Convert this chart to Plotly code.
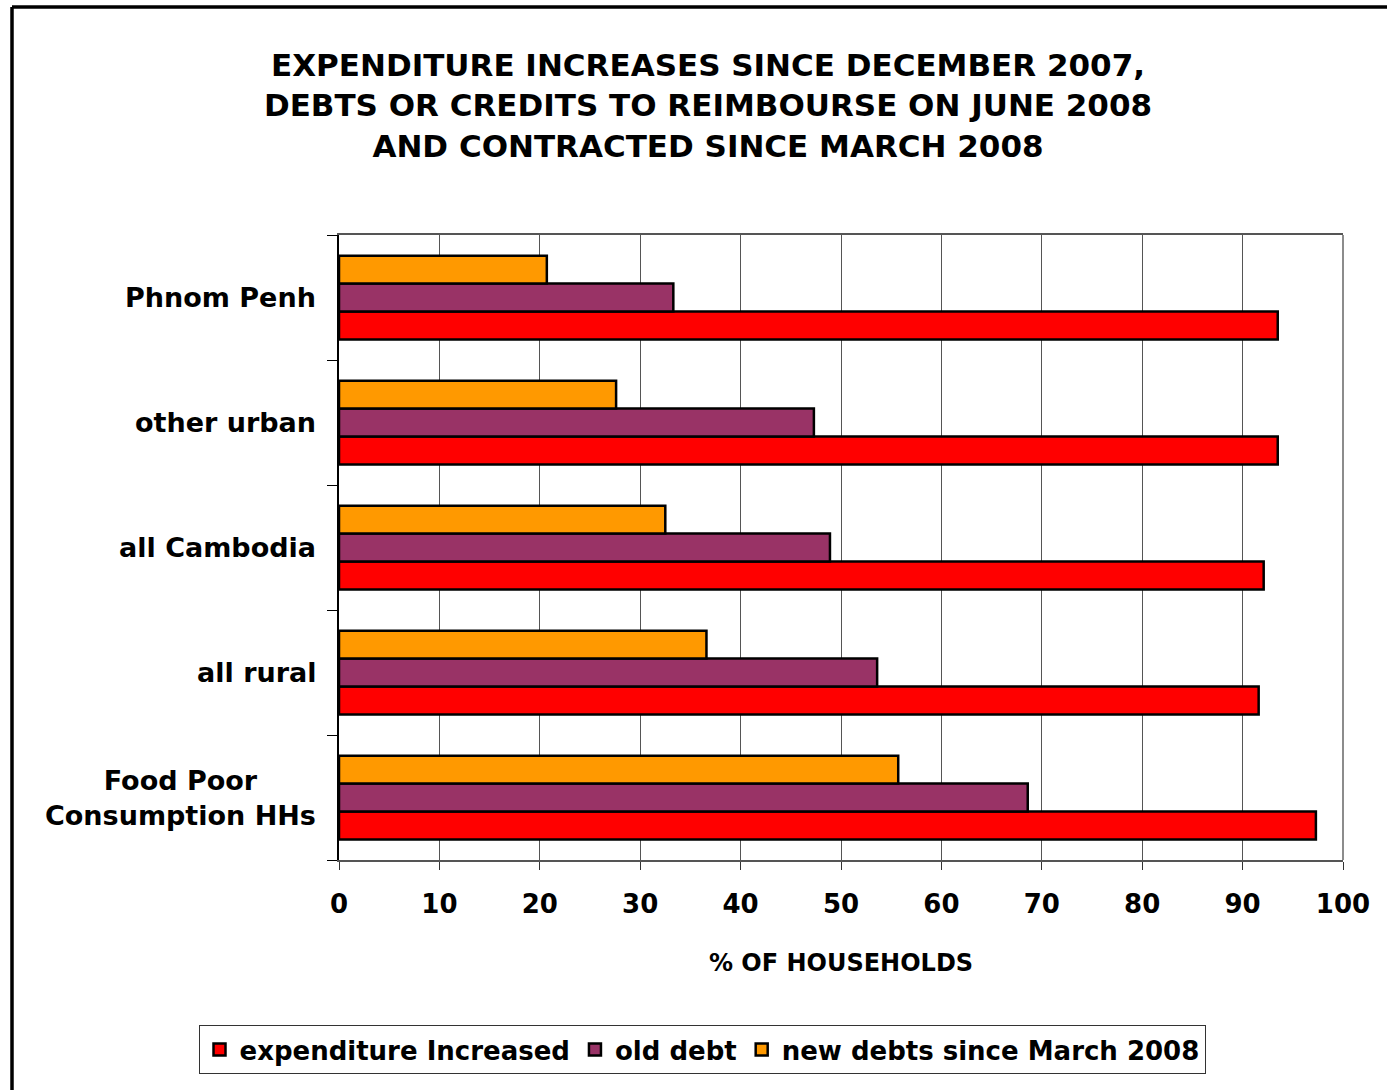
import plotly.graph_objects as go

# Data (categories listed bottom-to-top as drawn)
categories = ["Food Poor Consumption HHs", "all rural", "all Cambodia", "other urban", "Phnom Penh"]
category_labels = ["Food Poor<br>Consumption HHs", "all rural", "all Cambodia", "other urban", "Phnom Penh"]
expenditure_increased = [97.3, 91.6, 92.1, 93.5, 93.5]
old_debt = [68.6, 53.6, 48.9, 47.3, 33.3]
new_debts = [55.7, 36.6, 32.5, 27.6, 20.7]
x_ticks = [0, 10, 20, 30, 40, 50, 60, 70, 80, 90, 100]

FONT = "DejaVu Sans"
W, H = 1387, 1090
L, R, T, B = 339, 1343, 235, 860

fig = go.Figure()
series = [
    ("expenditure Increased", expenditure_increased, "#FF0000"),
    ("old debt", old_debt, "#993366"),
    ("new debts since March 2008", new_debts, "#FF9900"),
]
for name, vals, col in series:
    fig.add_trace(go.Bar(
        y=categories, x=vals, name=name, orientation="h",
        marker=dict(color=col, line=dict(color="black", width=2.5)),
    ))

def px_to_paper_x(px):
    return (px - L) / (R - L)

def px_to_paper_y(py):
    return (B - py) / (B - T)

shapes = [
    # right plot border
    dict(type="line", xref="paper", yref="paper", x0=1, x1=1, y0=0, y1=1,
         line=dict(color="#8c8c8c", width=2)),
    # outer chart frame (left and top edges, continuing beyond the image)
    dict(type="line", xref="paper", yref="paper",
         x0=px_to_paper_x(12), x1=px_to_paper_x(1400),
         y0=px_to_paper_y(7), y1=px_to_paper_y(7),
         line=dict(color="black", width=3.5)),
    dict(type="line", xref="paper", yref="paper",
         x0=px_to_paper_x(12), x1=px_to_paper_x(12),
         y0=px_to_paper_y(7), y1=px_to_paper_y(1100),
         line=dict(color="black", width=3.5)),
]

annotations = []
for cat, lab in zip(categories, category_labels):
    annotations.append(dict(
        xref="paper", yref="y", x=0, y=cat, xshift=-21,
        xanchor="right", yanchor="middle", align="center",
        text=lab, showarrow=False,
        font=dict(family=FONT, size=27, color="black", weight="bold"),
    ))

fig.update_layout(
    width=W, height=H,
    margin=dict(l=L, r=W - R, t=T, b=H - B, autoexpand=False),
    paper_bgcolor="white", plot_bgcolor="white",
    font=dict(family=FONT, color="black", weight="bold"),
    title=dict(
        text="EXPENDITURE INCREASES SINCE DECEMBER 2007,<br>DEBTS OR CREDITS TO REIMBOURSE ON JUNE 2008<br>AND CONTRACTED SINCE MARCH 2008",
        xref="container", yref="container", x=708 / W, y=1 - 76 / H,
        xanchor="center", yanchor="middle",
        font=dict(family=FONT, size=31, color="black", weight="bold"),
    ),
    barmode="group", bargap=0.33, bargroupgap=0,
    xaxis=dict(
        range=[0, 100], tickvals=x_ticks, ticktext=[str(v) for v in x_ticks],
        showgrid=True, gridcolor="#555555", gridwidth=1,
        showline=True, linecolor="#555555", linewidth=2, mirror=True,
        ticks="outside", ticklen=8, tickcolor="#333333", tickwidth=1,
        ticklabelstandoff=12,
        tickfont=dict(family=FONT, size=26, color="black", weight="bold"),
        zeroline=False,
        title=dict(text="% OF HOUSEHOLDS", standoff=36,
                   font=dict(family=FONT, size=24, color="black", weight="bold")),
    ),
    yaxis=dict(
        type="category", categoryorder="array", categoryarray=categories,
        tickson="boundaries", ticks="outside", ticklen=10, tickcolor="black",
        showticklabels=False, showgrid=False,
        showline=True, linecolor="black", linewidth=1.5, zeroline=False,
    ),
    legend=dict(
        orientation="h", xref="paper", yref="paper",
        x=px_to_paper_x(702), y=px_to_paper_y(1025), xanchor="center", yanchor="top",
        bordercolor="#333333", borderwidth=1, bgcolor="white",
        font=dict(family=FONT, size=26, color="black", weight="bold"),
        itemwidth=30, tracegroupgap=0,
    ),
    shapes=shapes,
    annotations=annotations,
)

fig.write_html("out.html")
